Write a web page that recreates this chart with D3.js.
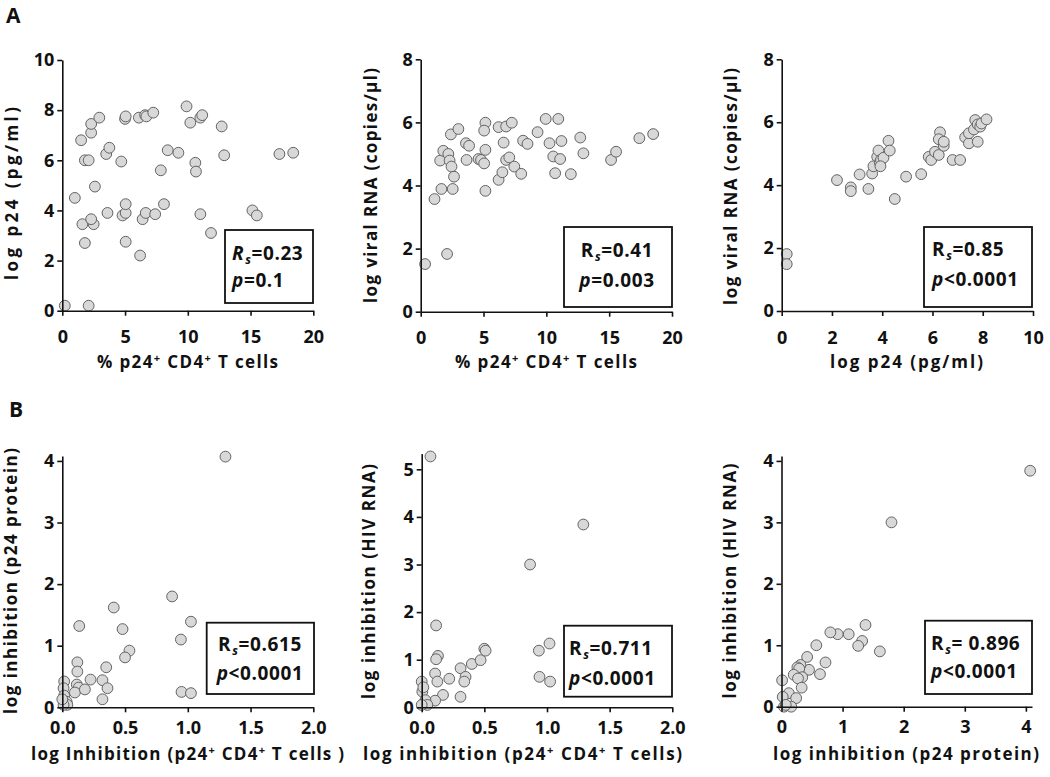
<!DOCTYPE html>
<html>
<head>
<meta charset="utf-8">
<script src="https://cdn.jsdelivr.net/npm/d3@7"></script>
<style>
	body { margin: 0; background: #fff; }
	text { font-family: "Open Sans", Lato, sans-serif; fill: #111; }
	.tick text { font-size: 18px; font-weight: bold; }
	.axisTitle { font-size: 17px; font-weight: bold; }
	.stat { font-size: 19px; font-weight: bold; letter-spacing: 0.6px; }
	.panelLetter { font-size: 21px; font-weight: bold; }
</style>
</head>
<body>
<div id="fig"></div>
<script>

// ---- data: [x, y] per donor ----

// A1: % p24+ CD4+ T cells vs log p24 (pg/ml)
const a1Points = [
	[0.2, 0.2], [2.1, 0.2], [1.0, 4.5], [1.5, 6.8], [1.8, 6.0], [2.1, 6.0], [1.8, 2.7],
	[1.6, 3.45], [2.5, 3.45], [2.3, 3.65], [2.6, 4.95], [2.3, 7.1], [2.3, 7.45], [2.95, 7.7],
	[3.5, 6.25], [3.75, 6.5], [3.6, 3.9], [4.7, 5.95], [4.8, 3.8], [5.05, 3.9], [5.05, 4.25],
	[5.05, 2.75], [5.0, 7.65], [5.05, 7.75], [6.2, 2.2], [6.1, 7.7], [6.4, 3.65], [6.6, 7.8],
	[6.65, 3.9], [6.7, 7.75], [7.25, 7.9], [7.4, 3.85], [7.85, 5.6], [8.1, 4.25], [8.4, 6.4],
	[9.25, 6.3], [9.9, 8.15], [10.2, 7.5], [10.6, 5.9], [10.65, 5.55], [11.0, 7.7], [11.15, 7.8],
	[11.0, 3.85], [11.85, 3.1], [12.7, 7.35], [12.9, 6.2], [15.15, 4.0], [15.5, 3.8],
	[17.3, 6.25], [18.4, 6.3]
];

// A2: % p24+ CD4+ T cells vs log viral RNA (copies/ul)
const a2Points = [
	[0.35, 1.51], [2.1, 1.83], [1.1, 3.57], [1.65, 3.89], [2.55, 3.89], [1.55, 4.79], [1.8, 5.1],
	[2.2, 5.0], [2.3, 4.79], [2.45, 4.6], [2.65, 4.28], [2.4, 5.62], [3.0, 5.79], [3.6, 5.34],
	[3.85, 5.26], [3.65, 4.81], [4.6, 4.84], [4.8, 4.81], [5.05, 4.7], [5.15, 3.83], [5.15, 5.13],
	[5.15, 5.99], [5.05, 5.74], [6.2, 5.85], [6.2, 4.18], [6.5, 4.42], [6.6, 5.36], [6.8, 5.87],
	[6.8, 4.81], [7.05, 4.89], [7.25, 5.99], [7.45, 4.6], [8.0, 4.37], [8.15, 5.42], [8.5, 5.32],
	[9.3, 5.69], [9.95, 6.11], [10.25, 5.34], [10.55, 4.92], [10.7, 4.39], [10.95, 6.11],
	[11.1, 4.84], [11.2, 5.41], [11.95, 4.36], [12.7, 5.52], [12.95, 5.02], [15.15, 4.81],
	[15.55, 5.07], [17.4, 5.5], [18.5, 5.63]
];

// A3: log p24 (pg/ml) vs log viral RNA (copies/ul)
const a3Points = [
	[0.2, 1.81], [0.2, 1.49], [2.2, 4.16], [2.75, 3.93], [2.75, 3.81], [3.1, 4.34], [3.45, 3.88],
	[3.6, 4.37], [3.65, 4.6], [3.8, 4.9], [3.85, 5.1], [3.9, 4.72], [3.95, 4.8], [4.05, 4.87],
	[3.93, 4.6], [4.25, 5.41], [4.3, 5.1], [4.5, 3.56], [4.95, 4.27], [5.55, 4.35], [5.85, 4.9],
	[5.95, 4.8], [6.1, 5.06], [6.25, 4.96], [6.3, 5.68], [6.25, 5.46], [6.45, 5.25], [6.45, 5.38],
	[6.8, 4.8], [7.1, 4.8], [7.3, 5.52], [7.45, 5.33], [7.45, 5.65], [7.65, 5.77], [7.7, 6.07],
	[7.8, 5.93], [7.8, 5.38], [7.9, 5.86], [7.95, 5.96], [8.15, 6.09]
];

// B1: log inhibition (p24+ CD4+ T cells) vs log inhibition (p24 protein)
const b1Points = [
	[1.30, 4.07], [0.875, 1.80], [1.025, 1.39], [0.945, 1.10], [0.95, 0.25], [1.025, 0.23],
	[0.41, 1.62], [0.48, 1.27], [0.535, 0.92], [0.50, 0.81], [0.135, 1.32], [0.12, 0.73],
	[0.12, 0.58], [0.115, 0.37], [0.13, 0.32], [0.10, 0.24], [0.18, 0.29], [0.225, 0.45],
	[0.32, 0.44], [0.35, 0.65], [0.36, 0.31], [0.32, 0.13], [0.015, 0.42], [0.01, 0.31],
	[0.015, 0.19], [0.035, 0.09], [0.04, 0.04], [0.01, 0.04], [0.0, 0.13]
];

// B2: log inhibition (p24+ CD4+ T cells) vs log inhibition (HIV RNA)
const b2Points = [
	[0.07, 5.27], [0.115, 1.72], [0.13, 1.08], [0.115, 1.01], [0.107, 0.71], [0.125, 0.54],
	[0.22, 0.60], [0.17, 0.26], [0.107, 0.14], [0.0, 0.54], [0.005, 0.33], [0.013, 0.42],
	[0.03, 0.15], [0.045, 0.05], [0.0, 0.05], [0.31, 0.82], [0.35, 0.64], [0.34, 0.54],
	[0.31, 0.22], [0.40, 0.91], [0.47, 0.99], [0.50, 1.23], [0.51, 1.19], [0.865, 3.00],
	[1.29, 3.84], [0.935, 1.19], [1.02, 1.34], [0.94, 0.64], [1.025, 0.54]
];

// B3: log inhibition (p24 protein) vs log inhibition (HIV RNA)
const b3Points = [
	[4.07, 3.84], [1.80, 3.00], [1.375, 1.33], [1.32, 1.07], [1.255, 0.99], [1.10, 1.18],
	[0.92, 1.18], [0.80, 1.21], [1.61, 0.90], [0.57, 1.00], [0.72, 0.72], [0.63, 0.53],
	[0.42, 0.81], [0.45, 0.60], [0.31, 0.68], [0.26, 0.64], [0.29, 0.62], [0.20, 0.52],
	[0.34, 0.48], [0.27, 0.46], [0.33, 0.31], [0.12, 0.22], [0.24, 0.14], [0.01, 0.43],
	[0.02, 0.16], [0.04, 0.0], [0.16, 0.0], [0.07, 0.03]
];

// tick values
const ticks0to20 = [0, 5, 10, 15, 20];
const ticks0to10 = [0, 2, 4, 6, 8, 10];
const ticks0to8 = [0, 2, 4, 6, 8];
const ticks0to2 = [0, 0.5, 1, 1.5, 2];
const ticks0to4 = [0, 1, 2, 3, 4];
const ticks0to5 = [0, 1, 2, 3, 4, 5];

// correlation labels
const rsValues = ["0.23", "0.41", "0.85", "0.615", "0.711", " 0.896"];
const pValues = ["=0.1", "=0.003", "<0.0001", "<0.0001", "<0.0001", "<0.0001"];

// ---- layout ----
const W = 1050, H = 777;

let svg = d3.select("#fig").append("svg")
	.attr("width", W).attr("height", H);

// title pieces: [text, superscript?]
const titleP24CD4 = [["% p24", 0], ["+", 1], [" CD4", 0], ["+", 1], [" T cells", 0]];

// xTitlePos / yTitlePos: [x, y, drawn length]
let panels = [
	{ pts: a1Points, xr: [62.3, 313.3], yr: [310.7, 60], xd: [0, 20], yd: [0, 10],
	  xt: ticks0to20, yt: ticks0to10, fmt: d3.format("d"), yfmt: d3.format("d"), xpad: 15,
	  xTitle: titleP24CD4, xTitlePos: [187.5, 368, 181],
	  yTitle: "log p24 (pg/ml)", yTitlePos: [18, 193.5, 173],
	  box: [225, 230, 88, 73], txtX: 232, txtAnchor: "start", b1: 260, b2: 287, rItalic: true },
	{ pts: a2Points, xr: [420.7, 672], yr: [311.7, 59.3], xd: [0, 20], yd: [0, 8],
	  xt: ticks0to20, yt: ticks0to8, fmt: d3.format("d"), yfmt: d3.format("d"), xpad: 15,
	  xTitle: titleP24CD4, xTitlePos: [546, 368, 182],
	  yTitle: "log viral RNA (copies/\u03bcl)", yTitlePos: [377, 185.5, 235],
	  box: [564, 227, 108, 80], txtX: 617, txtAnchor: "middle", b1: 257, b2: 287 },
	{ pts: a3Points, xr: [781.7, 1033], yr: [311, 59.3], xd: [0, 10], yd: [0, 8],
	  xt: ticks0to10, yt: ticks0to8, fmt: d3.format("d"), yfmt: d3.format("d"), xpad: 15,
	  xTitle: [["log p24 (pg/ml)", 0]], xTitlePos: [906.5, 368, 153],
	  yTitle: "log viral RNA (copies/\u03bcl)", yTitlePos: [737, 186.5, 237],
	  box: [924, 227, 108, 80], txtX: 932, txtAnchor: "start", b1: 256, b2: 286 },
	{ pts: b1Points, xr: [62.3, 313.3], yr: [707.3, 456], xd: [0, 2], yd: [0, 4.08],
	  xt: ticks0to2, yt: ticks0to4, fmt: d3.format(".1f"), yfmt: d3.format("d"), xpad: 9,
	  xTitle: [["log Inhibition (p24", 0], ["+", 1], [" CD4", 0], ["+", 1], [" T cells )", 0]],
	  xTitlePos: [187.5, 760, 313],
	  yTitle: "log inhibition (p24 protein)", yTitlePos: [17, 581, 266],
	  box: [206.7, 622.7, 107.3, 71.3], txtX: 260, txtAnchor: "middle", b1: 651, b2: 680 },
	{ pts: b2Points, xr: [421.7, 672.3], yr: [707.3, 453.6], xd: [0, 2], yd: [0, 5.33],
	  xt: ticks0to2, yt: ticks0to5, fmt: d3.format(".1f"), yfmt: d3.format("d"), xpad: 9,
	  xTitle: [["log inhibition (p24", 0], ["+", 1], [" CD4", 0], ["+", 1], [" T cells)", 0]],
	  xTitlePos: [522.5, 760, 319],
	  yTitle: "log inhibition (HIV RNA)", yTitlePos: [375, 581.5, 235],
	  box: [564, 625.7, 108, 71], txtX: 569, txtAnchor: "start", b1: 655, b2: 685 },
	{ pts: b3Points, xr: [781.5, 1032], yr: [706.7, 456], xd: [0, 4.1], yd: [0, 4.08],
	  xt: ticks0to4, yt: ticks0to4, fmt: d3.format("d"), yfmt: d3.format("d"), xpad: 9,
	  xTitle: [["log inhibition (p24 protein)", 0]], xTitlePos: [906, 760, 266],
	  yTitle: "log inhibition (HIV RNA)", yTitlePos: [736, 581, 235],
	  box: [925, 620.7, 107, 73.3], txtX: 931, txtAnchor: "start", b1: 650, b2: 678 }
];

// panel letters
svg.append("text").attr("class", "panelLetter").attr("x", 6).attr("y", 23).text("A");
svg.append("text").attr("class", "panelLetter").attr("x", 9).attr("y", 417).text("B");

panels.forEach(function (p, i) {

	let x = d3.scaleLinear().domain(p.xd).range(p.xr);
	let y = d3.scaleLinear().domain(p.yd).range(p.yr);

	let g = svg.append("g");

	// dots first so the axes sit on top
	g.selectAll("circle")
		.data(p.pts)
		.enter()
		.append("circle")
		.attr("cx", d => x(d[0]))
		.attr("cy", d => y(d[1]))
		.attr("r", 5.4)
		.attr("fill", "#d8d8d8")
		.attr("stroke", "#636363")
		.attr("stroke-width", 1);

	let xAxis = g.append("g")
		.attr("transform", "translate(0," + p.yr[0] + ")")
		.call(d3.axisBottom(x).tickValues(p.xt).tickFormat(p.fmt).tickSize(5).tickSizeOuter(0).tickPadding(p.xpad));

	let yAxis = g.append("g")
		.attr("transform", "translate(" + p.xr[0] + ",0)")
		.call(d3.axisLeft(y).tickValues(p.yt).tickFormat(p.yfmt).tickSize(5).tickSizeOuter(0).tickPadding(3));

	[xAxis, yAxis].forEach(function (a) {
		a.select(".domain").attr("stroke", "#111").attr("stroke-width", 1.6);
		a.selectAll(".tick line").attr("stroke", "#111").attr("stroke-width", 1.6);
		a.selectAll(".tick text").attr("fill", "#111");
	});

	// x title, with superscripts, stretched to the width seen in the figure
	let xt = g.append("text")
		.attr("class", "axisTitle")
		.attr("x", p.xTitlePos[0])
		.attr("y", p.xTitlePos[1])
		.attr("text-anchor", "middle")
		.attr("textLength", p.xTitlePos[2])
		.attr("lengthAdjust", "spacing");
	p.xTitle.forEach(function (part, k) {
		let ts = xt.append("tspan").text(part[0]);
		if (part[1]) ts.attr("dy", -6).style("font-size", "11px");
		else if (k > 0) ts.attr("dy", 6);
	});

	// y title
	g.append("text")
		.attr("class", "axisTitle")
		.attr("transform", "translate(" + p.yTitlePos[0] + "," + p.yTitlePos[1] + ") rotate(-90)")
		.attr("text-anchor", "middle")
		.attr("textLength", p.yTitlePos[2])
		.attr("lengthAdjust", "spacing")
		.text(p.yTitle);

	// stats box
	g.append("rect")
		.attr("x", p.box[0]).attr("y", p.box[1])
		.attr("width", p.box[2]).attr("height", p.box[3])
		.attr("fill", "#fff")
		.attr("stroke", "#111")
		.attr("stroke-width", 1.8);

	let r = g.append("text").attr("class", "stat")
		.attr("x", p.txtX).attr("y", p.b1).attr("text-anchor", p.txtAnchor);
	r.append("tspan").text("R").style("font-style", p.rItalic ? "italic" : "normal");
	r.append("tspan").text("s").attr("dy", 4).attr("dx", 1).style("font-size", "12px").style("font-style", "italic");
	r.append("tspan").text("=" + rsValues[i]).attr("dy", -4);

	let pv = g.append("text").attr("class", "stat")
		.attr("x", p.txtX).attr("y", p.b2).attr("text-anchor", p.txtAnchor);
	pv.append("tspan").text("p").style("font-style", "italic");
	pv.append("tspan").text(pValues[i]);
});

</script>
</body>
</html>
